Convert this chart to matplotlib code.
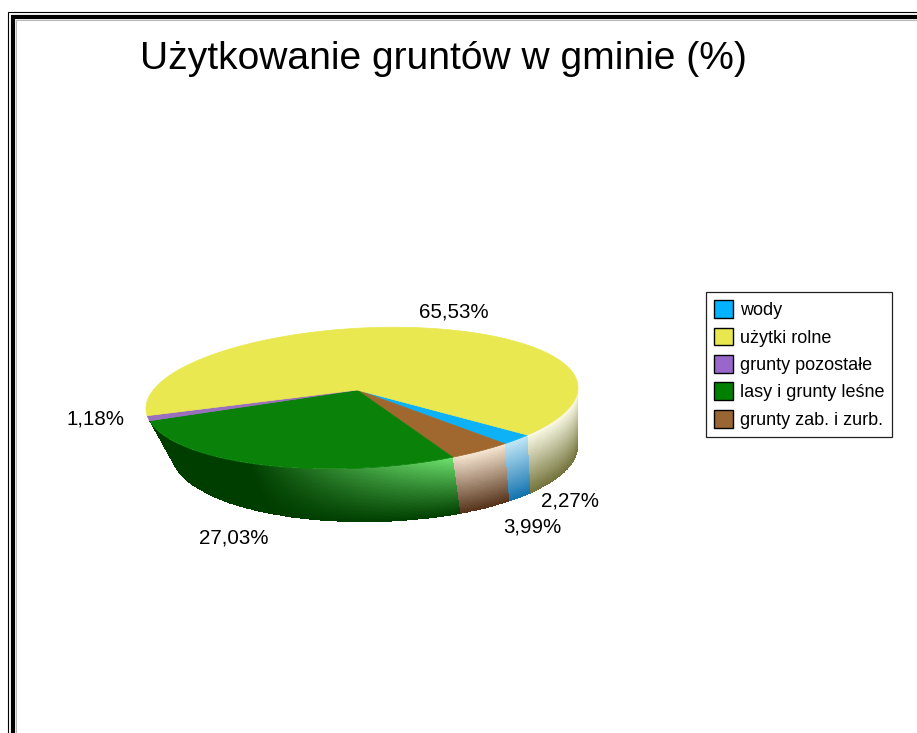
import numpy as np
import matplotlib
matplotlib.use('Agg')
import matplotlib.pyplot as plt
from matplotlib.patches import Polygon, Patch

plt.rcParams['font.family'] = ['Liberation Sans', 'DejaVu Sans']

# Data, in the drawing order of the pie (clockwise)
categories = ['wody', 'użytki rolne', 'grunty pozostałe', 'lasy i grunty leśne', 'grunty zab. i zurb.']
values = [2.27, 65.53, 1.18, 27.03, 3.99]
value_labels = ['2,27%', '65,53%', '1,18%', '27,03%', '3,99%']
title = 'Użytkowanie gruntów w gminie (%)'

# Wedges run clockwise on the picture: wody, grunty zab., lasy, pozostale, uzytki
pie_order = [0, 4, 3, 2, 1]

colors = ['#00B2FF', '#E8E84E', '#9966CC', '#008000', '#996633']
top_colors = ['#0DB1F5', '#E9E850', '#9A6FC0', '#0A820A', '#A0682F']
wall_top = [(195, 232, 248), (252, 252, 232), (150, 110, 190), (115, 235, 115), (248, 232, 212)]
wall_bottom = [(20, 115, 175), (115, 115, 60), (80, 50, 110), (0, 62, 0), (85, 50, 25)]
label_pos = [(570, 501), (454, 312), (95, 419), (234, 538), (532, 527)]

W, H = 917, 733
fig = plt.figure(figsize=(W / 100, H / 100), dpi=100)
ax = fig.add_axes([0, 0, 1, 1])
ax.set_xlim(0, W)
ax.set_ylim(H, 0)
ax.axis('off')

# Page frame (open to the right and bottom)
ax.plot([8, 8, W], [H, 11.5, 11.5], color='black', lw=0.8, solid_joinstyle='miter')
ax.plot([W, 15.8, 15.8], [19.5, 19.5, H], color='#b8b8b8', lw=0.8, solid_joinstyle='miter')
ax.plot([13, 13, W], [H, 17, 17], color='black', lw=3.0, solid_joinstyle='miter')

# Pie geometry in pixels
cx, cy, rx, ry = 362, 398, 216, 70
bx, by, brx, bry = 375, 450, 203, 72
apex = (357, 390)
start = -40.0
top_tilt, bottom_tilt = 0.048, 0.02


def warp(a):
    # the original 3D projection is not a plain ellipse: angles stretch on the front left
    return a + np.interp(a, [-300, -162, -65, -45], [0, -10, -3, 0])


def top_rim(a):
    r = np.radians(warp(a))
    x = cx + rx * np.cos(r)
    return x, cy - ry * np.sin(r) - top_tilt * (x - cx)


def bottom_rim(a):
    r = np.radians(warp(a))
    x = bx + brx * np.cos(r)
    return x, by - bry * np.sin(r) - bottom_tilt * (x - bx)


def draw_wall(a_hi, a_lo, idx):
    # a_hi > a_lo, degrees; the front of the pie is -180..0
    n = max(int((a_hi - a_lo) * 2), 2)
    ang = np.linspace(a_hi, a_lo, n + 1)
    vs = np.linspace(0, 1, 41)
    tx, ty = top_rim(ang)
    bx_, by_ = bottom_rim(ang)
    X = np.outer(1 - vs, tx) + np.outer(vs, bx_)
    Y = np.outer(1 - vs, ty) + np.outer(vs, by_)
    mid_a = (ang[:-1] + ang[1:]) / 2
    mid_v = (vs[:-1] + vs[1:]) / 2
    top = np.array(wall_top[idx]) / 255
    bot = np.array(wall_bottom[idx]) / 255
    # highlight fades out towards the left of the front wall
    h = np.clip(1 - (-60 - mid_a) / 55, 0, 1)
    C = np.zeros((len(mid_v), len(mid_a), 3))
    for j, v in enumerate(mid_v):
        for i in range(len(mid_a)):
            t = bot + h[i] * (top - bot)
            C[j, i] = t * (1 - v) + bot * v
    ax.pcolormesh(X, Y, C, shading='flat', antialiased=False, linewidth=0, zorder=2, rasterized=True)


# Angles of all wedge edges from the values
total = sum(values)
edges = [start]
for k in pie_order:
    edges.append(edges[-1] - values[k] / total * 360)

# The wall ends where lasy i grunty lesne ends
wall_end = edges[pie_order.index(3) + 1]

for pos, k in enumerate(pie_order):
    hi, lo = edges[pos], edges[pos + 1]
    # front wall
    for shift in (0, 360):
        a_hi = min(hi + shift, 0)
        a_lo = max(lo + shift, wall_end)
        if a_hi > a_lo:
            draw_wall(a_hi, a_lo, k)
    # top surface
    ang = np.linspace(hi, lo, max(int((hi - lo) * 2), 4))
    xs, ys = top_rim(ang)
    pts = np.column_stack([np.r_[apex[0], xs], np.r_[apex[1], ys]])
    ax.add_patch(Polygon(pts, closed=True, facecolor=top_colors[k], edgecolor=top_colors[k], lw=0.5, zorder=3))

# Value labels
for k in range(len(values)):
    ax.text(label_pos[k][0], label_pos[k][1], value_labels[k], fontsize=14.8, color='black',
            ha='center', va='center', zorder=5)

ax.text(443, 59, title, fontsize=28.1, color='black', ha='center', va='center', zorder=5)

# Legend
handles = [Patch(facecolor=colors[i], edgecolor='black', lw=1.0, label=categories[i])
           for i in range(len(categories))]
leg = ax.legend(handles=handles, loc='upper left', bbox_to_anchor=(706 / W, 1 - 292 / H),
                bbox_transform=fig.transFigure, frameon=True, fancybox=False, edgecolor='#222222',
                framealpha=1, fontsize=13, borderaxespad=0, borderpad=0.45, labelspacing=0.46,
                handlelength=1.05, handleheight=1.15, handletextpad=0.36)
leg.get_frame().set_linewidth(0.9)
leg.set_zorder(6)

fig.savefig('out.png', dpi=100, facecolor='white')
